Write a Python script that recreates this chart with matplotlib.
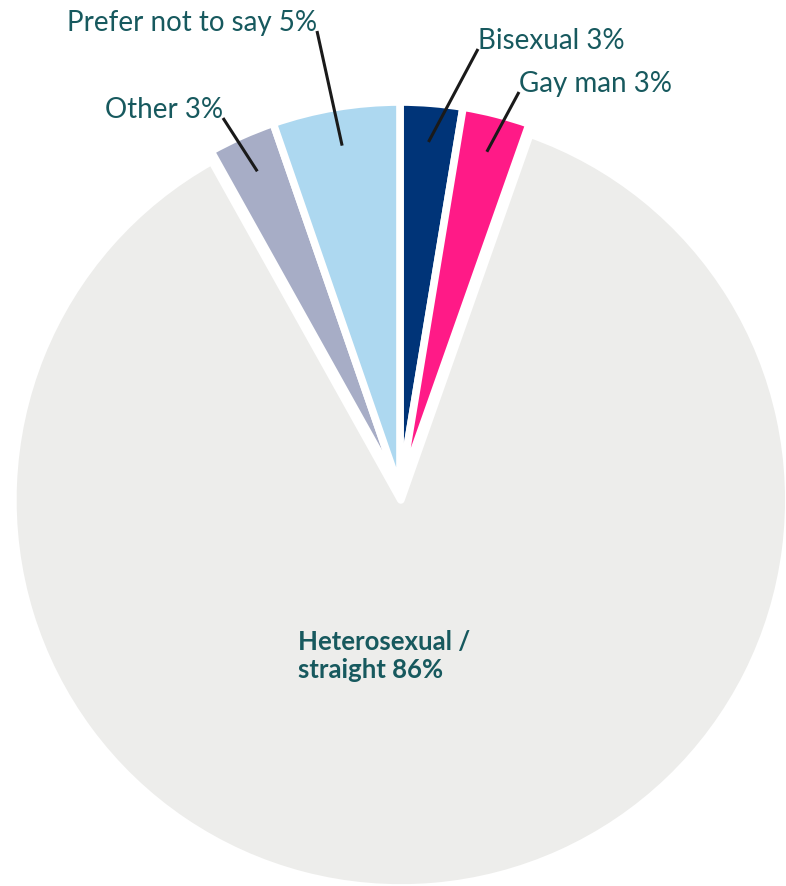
import numpy as np
import matplotlib.pyplot as plt

# data, clockwise from 12 o'clock (slice sizes, labels as printed)
labels = ['Bisexual', 'Gay man', 'Heterosexual /\nstraight', 'Other', 'Prefer not to say']
values = [2.6, 2.8, 86.5, 2.8, 5.3]
pct_text = [3, 3, 86, 3, 5]
colors = ['#003478', '#FF1A87', '#EDEDEB', '#A7ADC6', '#ADD8F0']

# label anchor (pixel coords, top-left origin) and alignment for the small slices
label_pos = {'Bisexual': (478, 49, 'left'),
             'Gay man': (519, 92, 'left'),
             'Other': (223, 118, 'right'),
             'Prefer not to say': (317, 31, 'right')}

W, H = 786, 887
text_col = '#17595E'
plt.rcParams['font.family'] = ['Lato', 'DejaVu Sans']

fig = plt.figure(figsize=(W / 100, H / 100), dpi=100)
ax = fig.add_axes([0, 0, 1, 1])

cx, cy, R = 400, H - 491, 388
explode = [0, 0, 10, 0, 0]  # pie() takes explode in data units
wedges, _ = ax.pie(values, colors=colors, explode=explode, startangle=90,
                   counterclock=False, radius=R, center=(cx, cy),
                   wedgeprops=dict(edgecolor='white', linewidth=5.5, joinstyle='round'),
                   frame=True)
ax.set_xlim(0, W)
ax.set_ylim(0, H)
ax.set_aspect('equal')
ax.axis('off')

for w, lab, p in zip(wedges, labels, pct_text):
    if lab not in label_pos:
        continue
    tx, ty, ha = label_pos[lab]
    ty = H - ty
    mid = np.deg2rad((w.theta1 + w.theta2) / 2)
    ex = cx + 0.9 * R * np.cos(mid)
    ey = cy + 0.9 * R * np.sin(mid)
    ax.plot([tx, ex], [ty - 1, ey], color='#1a1a1a', lw=2.2, solid_capstyle='butt')
    ax.text(tx, ty, f'{lab} {p}%', ha=ha, va='baseline', fontsize=20, color=text_col)

ax.text(298, H - 630, f'{labels[2]} {pct_text[2]}%', ha='left', va='top',
        fontsize=18.5, fontweight='bold', color=text_col, linespacing=1.2)

fig.savefig('out.png', dpi=100)
